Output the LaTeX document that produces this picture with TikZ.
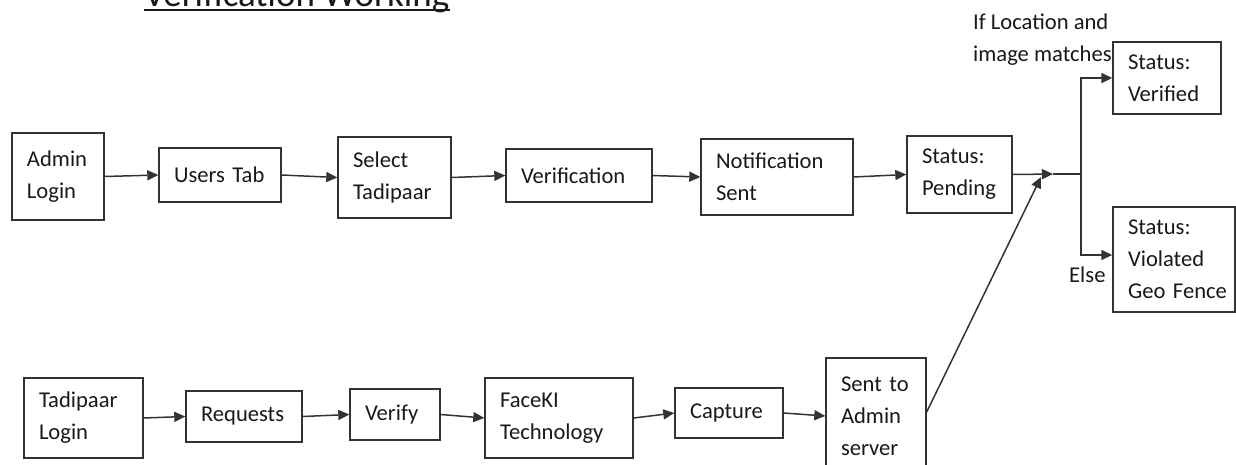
\documentclass[tikz,border=0pt]{standalone}
\usepackage{fontspec}
\setmainfont{Carlito}
\usetikzlibrary{arrows.meta}
\tikzset{
  box/.style={draw=black!80, line width=1.4pt, align=left, inner xsep=15pt, inner ysep=0pt,
    font=\fontsize{22.6}{32}\selectfont, text=black!90, anchor=center},
  arr/.style={draw=black!80, line width=1.5pt, -{Triangle[length=11pt,width=10pt]}},
  ln/.style={draw=black!80, line width=1.5pt},
  lbl/.style={inner sep=0pt, font=\fontsize{22.6}{32}\selectfont, text=black!90, align=left}
}
\begin{document}
\begin{tikzpicture}[x=1pt,y=-1pt]
\useasboundingbox (0,0) rectangle (1236,464);
\clip (0,0) rectangle (1236,464);
% title
\node[inner sep=0pt, font=\fontsize{37}{40}\selectfont, text=black!90, anchor=base west] (title) at (144,6) {Verification~Working};
\draw[line width=2pt, black!90] ([yshift=-4pt]title.base west) -- ([yshift=-4pt]title.base east);
% top row
\node[box, text width=62pt, minimum height=87pt] (admin) at (58,176.5) {Admin\\Login};
\node[box, text width=92pt, minimum height=54pt] (users) at (220,175) {Users~Tab};
\node[box, text width=83pt, minimum height=81pt] (select) at (394.5,177.5) {Select\\Tadipaar};
\node[box, text width=116pt, minimum height=53pt] (verif) at (579,175.5) {Verification};
\node[box, text width=122pt, minimum height=76pt] (notif) at (777,177) {Notification\\Sent};
\node[box, text width=75pt, minimum height=77pt] (pending) at (959.5,174.5) {Status:\\Pending};
\node[box, text width=78pt, minimum height=72pt] (verified) at (1167,78) {Status:\\Verified};
\node[box, text width=92pt, minimum height=105pt] (violated) at (1174,259.5) {Status:\\Violated\\Geo~Fence};
% bottom row
\node[box, text width=89pt, minimum height=80pt] (tlogin) at (83.5,418) {Tadipaar\\Login};
\node[box, text width=86pt, minimum height=51pt] (requests) at (244,416.5) {Requests};
\node[box, text width=60pt, minimum height=51pt] (verify) at (395,414.5) {Verify};
\node[box, text width=118pt, minimum height=80pt] (faceki) at (559,418) {FaceKI\\Technology};
\node[box, text width=78pt, minimum height=50pt] (capture) at (729,413) {Capture};
\node[box, text width=70pt, minimum height=116pt] (sent) at (876,416) {Sent~to\\Admin\\server};
% labels
\node[lbl, anchor=north west] (iflbl) at (973,14) {If Location and\\image matches};
\node[lbl, anchor=base west] (elselbl) at (1069,282) {Else};
% junction
\coordinate (jtip) at (1053,174);
\coordinate (j) at (1081,174);
\coordinate (jin) at (1041,177);
% connectors top
\draw[arr] (admin.east) -- (users.west);
\draw[arr] (users.east) -- (select.west);
\draw[arr] (select.east) -- (verif.west);
\draw[arr] (verif.east) -- (notif.west);
\draw[arr] (notif.east) -- (pending.west);
\draw[arr] (pending.east) -- (jtip);
\draw[ln] (jtip) -- (j);
\draw[arr] (j) |- (verified.west);
\draw[arr] (j) |- ([yshift=4.5pt]violated.west);
% connectors bottom
\draw[arr] (tlogin.east) -- (requests.west);
\draw[arr] (requests.east) -- (verify.west);
\draw[arr] (verify.east) -- (faceki.west);
\draw[arr] (faceki.east) -- (capture.west);
\draw[arr] (capture.east) -- (sent.west);
\draw[arr] ([yshift=4pt]sent.east) -- (jin);
\end{tikzpicture}
\end{document}
